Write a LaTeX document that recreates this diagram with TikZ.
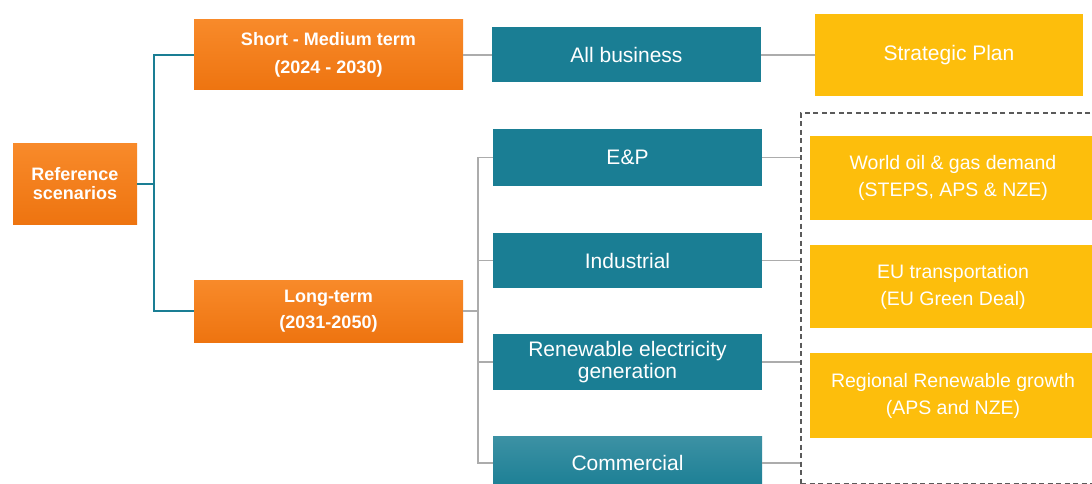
\documentclass[tikz,border=0pt]{standalone}
\usepackage{fontspec}
\setmainfont{Liberation Sans}
\definecolor{orA}{HTML}{F88A2A}
\definecolor{orB}{HTML}{EE7410}
\definecolor{teal1}{HTML}{1A7E94}
\definecolor{yel}{HTML}{FDBE0C}
\definecolor{lgray}{HTML}{ACACAC}
\definecolor{dgray}{HTML}{5A5A5A}
\tikzset{
  orbox/.style={rectangle, top color=orA, bottom color=orB, draw=none, text=white, align=center, inner sep=0pt},
  tealbox/.style={rectangle, fill=teal1, draw=none, text=white, align=center, inner sep=0pt, minimum width=269pt, font=\fontsize{21}{22}\selectfont},
  yelbox/.style={rectangle, fill=yel, draw=none, text=white, align=center, inner sep=0pt, font=\fontsize{19.5}{27}\selectfont},
  tealline/.style={draw=teal1, line width=2pt},
  grayline/.style={draw=lgray, line width=1.3pt},
  grpbox/.style={rectangle, draw=dgray, dash pattern=on 5pt off 3.5pt, line width=1.5pt, inner sep=0pt}
}
\begin{document}
\begin{tikzpicture}[x=1pt,y=-1pt]
\useasboundingbox (0,0) rectangle (1092,484);
\clip (0,0) rectangle (1092,484);
\fill[white] (0,0) rectangle (1092,484);
% orange
\node[orbox, minimum width=124pt, minimum height=80pt, font=\fontsize{18}{19}\selectfont\bfseries] (ref) at (75,184) {Reference\\scenarios};
\node[orbox, minimum width=269pt, minimum height=70pt, font=\fontsize{18}{28}\selectfont\bfseries] (short) at (328.5,55) {Short - Medium term\\(2024 - 2030)};
\node[orbox, minimum width=269pt, minimum height=62pt, font=\fontsize{18}{26}\selectfont\bfseries] (long) at (328.5,311) {Long-term\\(2031-2050)};
% teal
\node[tealbox, minimum height=55pt] (allb) at (626.5,55) {All business};
\node[tealbox, minimum height=57pt] (ep) at (627.5,157.5) {E\&P};
\node[tealbox, minimum height=55pt] (ind) at (627.5,260.5) {Industrial};
\node[tealbox, minimum height=56pt] (ren) at (627.5,362) {Renewable electricity\\generation};
\node[tealbox, minimum height=54pt, top color=teal1!85!white, bottom color=teal1] (com) at (627.5,463) {Commercial};
% group
\node[grpbox, minimum width=299pt, minimum height=371pt] (grp) at (950.5,298.5) {};
% yellow
\node[yelbox, minimum width=268pt, minimum height=82pt, font=\fontsize{21}{22}\selectfont] (strat) at (949,55) {Strategic Plan};
\node[yelbox, minimum width=286pt, minimum height=84pt] (world) at (953,178) {World oil \& gas demand\\(STEPS, APS \& NZE)};
\node[yelbox, minimum width=286pt, minimum height=83pt] (eu) at (953,286.5) {EU transportation\\(EU Green Deal)};
\node[yelbox, minimum width=286pt, minimum height=85pt] (reg) at (953,395.5) {Regional Renewable growth\\(APS and NZE)};
% teal connectors
\coordinate (j1) at (154,184);
\draw[tealline] (ref.east) -- (j1);
\draw[tealline] (short.west) -| (j1);
\draw[tealline] (long.west) -| (j1);
% gray connectors
\draw[grayline] (short.east) -- (allb.west);
\draw[grayline] (allb.east) -- (strat.west);
\coordinate (j2) at (478,311);
\draw[grayline] (long.east) -- (j2);
\draw[grayline] (ep.west) -| (j2);
\draw[grayline] (ind.west) -| (j2);
\draw[grayline] (ren.west) -| (j2);
\draw[grayline] (com.west) -| (j2);
\draw[grayline] (ep.east) -- (ep.east -| grp.west);
\draw[grayline] (ind.east) -- (ind.east -| grp.west);
\draw[grayline] (ren.east) -- (ren.east -| grp.west);
\draw[grayline] (com.east) -- (com.east -| grp.west);
\end{tikzpicture}
\end{document}
